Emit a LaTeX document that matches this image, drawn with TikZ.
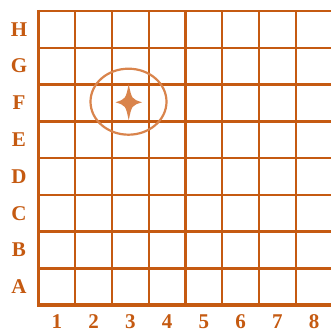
\documentclass[tikz,border=0pt]{standalone}
\usepackage{fontspec}
\usetikzlibrary{shapes.geometric}
\setmainfont{Liberation Serif}
\definecolor{gridc}{HTML}{C55A11}
\definecolor{markc}{HTML}{D9844C}
\begin{document}
\begin{tikzpicture}[x=1pt,y=-1pt,
  thin line/.style={draw=gridc,line width=2.2pt},
  thick line/.style={draw=gridc,line width=3.5pt},
  lab/.style={text=gridc,font=\fontsize{21}{21}\selectfont\bfseries,inner sep=0pt}]
\useasboundingbox (0,0) rectangle (331,334);
\fill[white] (0,0) rectangle (331,334);
% vertical lines
\foreach \i in {1,2,3,5,6,7,8} {
  \draw[thin line] ({38.5+36.75*\i},11) -- ({38.5+36.75*\i},305);
}
\draw[thick line] (185.5,11) -- (185.5,305);
% horizontal lines
\foreach \j in {0,1,2,4,5,6} {
  \draw[thin line] (38.5,{11+36.75*\j}) -- (340,{11+36.75*\j});
}
\draw[thick line] (38.5,121.25) -- (340,121.25);
\draw[thick line] (38.5,268.25) -- (340,268.25);
% left and bottom edges
\draw[thick line] (38.5,10) -- (38.5,305) -- (340,305);
% row labels
\foreach \l [count=\k from 0] in {H,G,F,E,D,C,B,A} {
  \node[lab] (row\l) at (19,{29.4+36.75*\k}) {\l};
}
% column labels
\foreach \n in {1,...,8} {
  \node[lab] (col\n) at ({20+36.75*\n},322) {\n};
}
% circle and star
\node[draw=markc,line width=2.2pt,ellipse,minimum width=76pt,minimum height=66pt,inner sep=0pt] (ring) at (128.5,101.7) {};
\fill[markc] (128.7,84) .. controls (131.7,99) .. (142,102.3)
  .. controls (131.7,105.5) .. (128.7,120.5)
  .. controls (125.7,105.5) .. (115.5,102.3)
  .. controls (125.7,99) .. cycle;
\end{tikzpicture}
\end{document}
